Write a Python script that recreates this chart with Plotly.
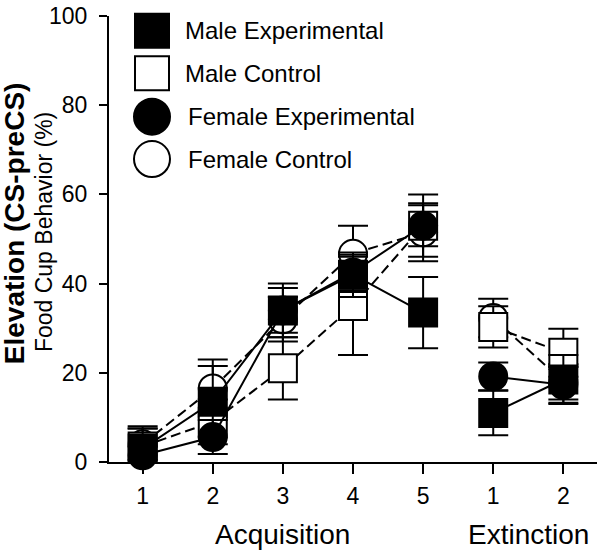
import plotly.graph_objects as go

# ---- data ----
acq_sessions = [1, 2, 3, 4, 5]
ext_sessions = [6, 7]
tick_vals = [1, 2, 3, 4, 5, 6, 7]
tick_text = ["1", "2", "3", "4", "5", "1", "2"]

me_mean = [3.0, 13.5, 34.0, 42.0, 33.5, 11.0, 18.5]
me_sem = [5.0, 8.0, 6.0, 5.0, 8.0, 5.0, 5.5]
mc_mean = [3.5, 9.0, 21.0, 35.0, 53.0, 30.3, 24.5]
mc_sem = [4.0, 5.0, 7.0, 11.0, 7.0, 4.6, 5.4]
fe_mean = [1.5, 5.6, 34.0, 42.5, 53.0, 19.2, 17.3]
fe_sem = [2.0, 3.8, 5.0, 4.0, 4.6, 3.1, 4.0]
fc_mean = [4.0, 16.5, 32.0, 46.7, 51.5, 32.3, 18.0]
fc_sem = [3.5, 6.5, 5.0, 6.3, 6.5, 4.3, 4.0]

y_ticks = [0, 20, 40, 60, 80, 100]
group_labels = ["Acquisition", "Extinction"]
group_pos = [3, 6.5]
legend_names = ["Male Experimental", "Male Control", "Female Experimental", "Female Control"]

FONT = "Liberation Sans, Arial, sans-serif"

series = [
    # name, mean, sem, symbol, fill, dash
    ("Female Control", fc_mean, fc_sem, "circle", "white", "10px,5px"),
    ("Male Control", mc_mean, mc_sem, "square", "white", "10px,5px"),
    ("Male Experimental", me_mean, me_sem, "square", "black", "solid"),
    ("Female Experimental", fe_mean, fe_sem, "circle", "black", "solid"),
]

fig = go.Figure()
for name, mean, sem, sym, fill, dash in series:
    for idx in (slice(0, 5), slice(5, 7)):
        xs = tick_vals[idx]
        fig.add_trace(go.Scatter(
            x=xs, y=mean[idx], mode="lines+markers", name=name, showlegend=False,
            line=dict(color="black", width=2, dash=dash),
            marker=dict(symbol=sym, size=28, color=fill, line=dict(color="black", width=2)),
            error_y=dict(type="data", array=sem[idx], visible=True, color="black",
                         thickness=2, width=15),
            cliponaxis=False,
        ))

# plot geometry (pixels) for layout-only helpers
L, R, T, B = 109, 3, 10, 90
W, H = 600, 552
pw, ph = W - L - R, H - T - B

def px_x(p):
    return (p - L) / pw

def px_y(p):
    return (H - B - p) / ph

# manual legend
leg_syms = [("rect", "black"), ("rect", "white"), ("circle", "black"), ("circle", "white")]
leg_rows = [25, 68, 112, 155]
leg_text_x = [183, 183, 186, 186]
shapes = []
annotations = []
for (kind, fill), row, tx, name in zip(leg_syms, leg_rows, leg_text_x, legend_names):
    half = 17 if kind == "rect" else 18
    shapes.append(dict(type=kind, xref="paper", yref="paper", xsizemode="pixel", ysizemode="pixel",
                       xanchor=px_x(152), yanchor=px_y(row), x0=-half, x1=half, y0=-half, y1=half,
                       fillcolor=fill, line=dict(color="black", width=2)))
    annotations.append(dict(text=name, xref="paper", yref="paper", x=px_x(tx), y=px_y(row),
                            xanchor="left", yanchor="middle", showarrow=False,
                            font=dict(family=FONT, size=24, color="black")))

for lab, pos in zip(group_labels, group_pos):
    annotations.append(dict(text=lab, x=pos, xref="x", yref="paper", y=px_y(535),
                            xanchor="center", yanchor="middle", showarrow=False,
                            font=dict(family=FONT, size=28, color="black")))

annotations.append(dict(text="<b>Elevation (CS-preCS)</b>", xref="paper", yref="paper",
                        x=px_x(14), y=px_y(220), textangle=-90, xanchor="center", yanchor="middle",
                        showarrow=False, font=dict(family=FONT, size=28, color="black")))
annotations.append(dict(text="Food Cup Behavior (%)", xref="paper", yref="paper",
                        x=px_x(44), y=px_y(229), textangle=-90, xanchor="center", yanchor="middle",
                        showarrow=False, font=dict(family=FONT, size=23, color="black")))

fig.update_layout(
    width=W, height=H, margin=dict(l=L, r=R, t=T, b=B, pad=0),
    plot_bgcolor="white", paper_bgcolor="white",
    font=dict(family=FONT, color="black"),
    shapes=shapes, annotations=annotations, showlegend=False,
    xaxis=dict(range=[0.52, 7.48], tickvals=tick_vals, ticktext=tick_text,
               showgrid=False, zeroline=False, showline=True, linecolor="black", linewidth=2,
               ticks="outside", ticklen=10, tickwidth=2, tickcolor="black",
               tickfont=dict(family=FONT, size=23, color="black"), ticklabelstandoff=2),
    yaxis=dict(range=[0, 100.01], tickvals=y_ticks, showgrid=False, zeroline=False,
               showline=True, linecolor="black", linewidth=2,
               ticks="outside", ticklen=8, tickwidth=2, tickcolor="black",
               tickfont=dict(family=FONT, size=23, color="black"), ticklabelstandoff=7,
               ticklabeloverflow="allow"),
)

fig.write_html("out.html", config={"displayModeBar": False},
               post_script="document.body.style.margin='0';document.body.style.overflow='hidden';")
